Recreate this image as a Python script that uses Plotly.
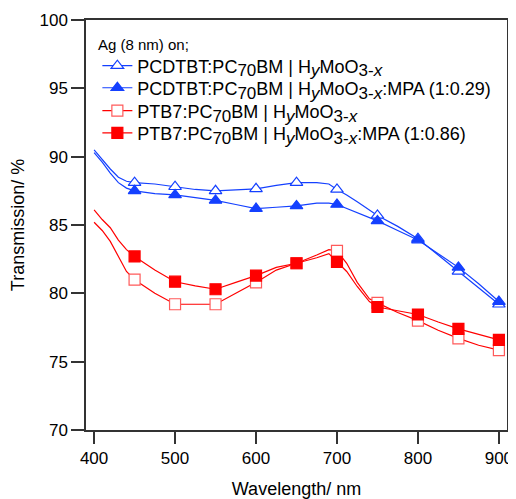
import plotly.graph_objects as go

wavelength = [400, 410, 420, 430, 440, 450, 475, 500, 525, 550, 575, 600, 625, 650, 675, 690,
              700, 712, 725, 740, 750, 775, 800, 825, 850, 875, 900]

pcdtbt_hymoo3 = [90.5, 89.8, 89.1, 88.5, 88.2, 88.1, 88.0, 87.8, 87.6, 87.5, 87.55, 87.65, 87.9, 88.1, 88.1, 88.0,
                 87.6, 87.2, 86.7, 86.1, 85.7, 84.9, 84.0, 82.8, 81.6, 80.4, 79.2]
pcdtbt_mpa = [90.3, 89.6, 88.8, 88.1, 87.7, 87.5, 87.3, 87.2, 87.0, 86.8, 86.5, 86.2, 86.3, 86.4, 86.6, 86.6,
              86.5, 86.2, 85.9, 85.5, 85.3, 84.6, 83.9, 82.9, 81.9, 80.7, 79.4]
ptb7_hymoo3 = [85.2, 84.6, 83.8, 82.7, 81.6, 81.0, 80.0, 79.2, 79.2, 79.2, 80.0, 80.8, 81.7, 82.2, 82.8, 83.2,
               83.1, 82.2, 80.8, 79.6, 79.3, 78.6, 78.0, 77.3, 76.7, 76.2, 75.85]
ptb7_mpa = [86.1, 85.4, 84.8, 83.9, 83.2, 82.7, 81.7, 80.85, 80.55, 80.3, 80.8, 81.3, 81.9, 82.2, 82.6, 82.9,
            82.3, 81.6, 80.5, 79.4, 79.0, 78.7, 78.45, 77.9, 77.4, 77.0, 76.6]

legend_title = "Ag (8 nm) on;"
SUB = '<sub><span style="font-size:17px">{}</span></sub>'
legend_names = [
    "PCDTBT:PC" + SUB.format("70") + "BM | H" + SUB.format("<i>y</i>") + "MoO" + SUB.format("3-<i>x</i>"),
    "PCDTBT:PC" + SUB.format("70") + "BM | H" + SUB.format("<i>y</i>") + "MoO" + SUB.format("3-<i>x</i>") + ":MPA (1:0.29)",
    "PTB7:PC" + SUB.format("70") + "BM | H" + SUB.format("<i>y</i>") + "MoO" + SUB.format("3-<i>x</i>"),
    "PTB7:PC" + SUB.format("70") + "BM | H" + SUB.format("<i>y</i>") + "MoO" + SUB.format("3-<i>x</i>") + ":MPA (1:0.86)",
]

BLUE = "#1440ff"
RED = "#ff0000"
RED_OPEN = "#ff5a5a"
FAM = "Liberation Sans, Arial, sans-serif"

# indices of the points that carry a marker (every 50 nm from 450 nm)
marker_idx = [i for i, w in enumerate(wavelength) if w >= 450 and w % 50 == 0]

series = [
    (pcdtbt_hymoo3, BLUE, BLUE, "triangle-up", "white", 11),
    (pcdtbt_mpa, BLUE, BLUE, "triangle-up", BLUE, 11),
    (ptb7_hymoo3, RED, RED_OPEN, "square", "white", 11),
    (ptb7_mpa, RED, RED, "square", RED, 11),
]
legend_ids = ["legend", "legend2", "legend3", "legend4"]
legend_y = [0.888, 0.834, 0.778, 0.724]

fig = go.Figure()
for (vals, col, mcol, sym, fill, msize), name, lid in zip(series, legend_names, legend_ids):
    fig.add_trace(go.Scatter(
        x=wavelength, y=vals, name=name, mode="lines+markers", legend=lid,
        line=dict(color=col, width=1.2),
        marker=dict(symbol=sym, size=msize, color=fill,
                    line=dict(color=mcol, width=1.2)),
        selectedpoints=marker_idx,
        selected=dict(marker=dict(opacity=1)),
        unselected=dict(marker=dict(opacity=0)),
    ))

legend_common = dict(
    x=0.027, xanchor="left", yanchor="middle",
    bgcolor="rgba(0,0,0,0)", borderwidth=0,
    font=dict(family=FAM, size=18, color="black"),
)

fig.update_layout(
    width=508, height=491,
    margin=dict(l=78, r=9, t=12, b=69),
    plot_bgcolor="white", paper_bgcolor="white",
    font=dict(family=FAM, size=17, color="black"),
    showlegend=True,
    dragmode=False,
    legend=dict(y=legend_y[0], **legend_common),
    legend2=dict(y=legend_y[1], **legend_common),
    legend3=dict(y=legend_y[2], **legend_common),
    legend4=dict(y=legend_y[3], **legend_common),
    annotations=[dict(
        text=legend_title, xref="paper", yref="paper", x=0.024, y=0.94,
        xanchor="left", yanchor="middle", showarrow=False,
        font=dict(family=FAM, size=15, color="black"),
    )],
    xaxis=dict(
        range=[390, 910], tickvals=[400, 500, 600, 700, 800, 900],
        ticks="outside", ticklen=12, tickwidth=1.5, tickcolor="#333",
        showline=True, linecolor="#333", linewidth=1.5, mirror=True,
        showgrid=False, zeroline=False, automargin=False,
        tickfont=dict(family=FAM, size=17, color="black"),
        title=dict(text="Wavelength/ nm", standoff=22, font=dict(family=FAM, size=18, color="black")),
    ),
    yaxis=dict(
        range=[70, 100], tickvals=[70, 75, 80, 85, 90, 95, 100],
        ticks="outside", ticklen=13, tickwidth=1.5, tickcolor="#333",
        showline=True, linecolor="#333", linewidth=1.5, mirror=True,
        showgrid=False, zeroline=False, automargin=False,
        tickfont=dict(family=FAM, size=17, color="black"),
        title=dict(text="Transmission/ %", standoff=10, font=dict(family=FAM, size=18, color="black")),
    ),
)

fig.write_html("out.html")
